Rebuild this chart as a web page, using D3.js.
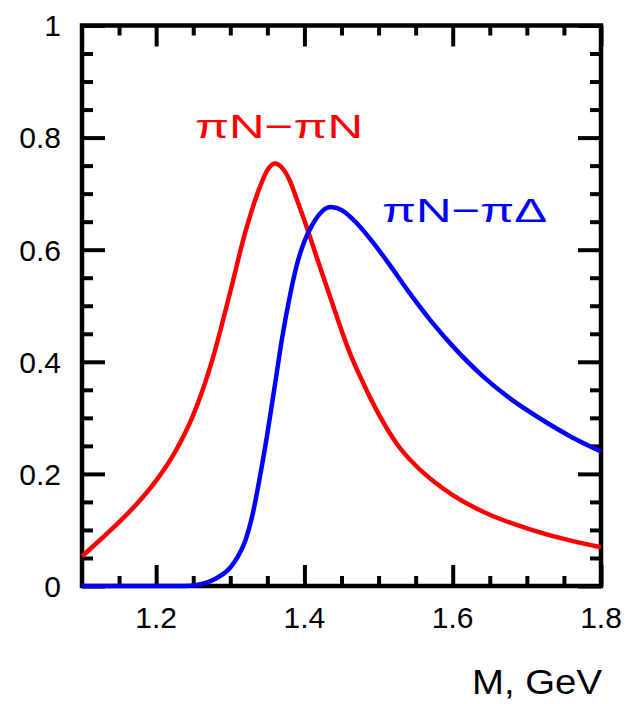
<!DOCTYPE html>
<html>
<head>
<meta charset="utf-8">
<script src="https://cdn.jsdelivr.net/npm/d3@7"></script>
<style>
  body { margin: 0; background: #fff; }
  text { font-family: "Liberation Sans", Arial, sans-serif; }
</style>
</head>
<body>
<div id="chart"></div>
<script>
// curve values (M in GeV, y = ratio)
const redM = [1.100, 1.125, 1.150, 1.175, 1.200, 1.225, 1.250, 1.275, 1.300, 1.320, 1.340, 1.350, 1.360, 1.370, 1.380, 1.390, 1.400, 1.420, 1.440, 1.460, 1.480, 1.500, 1.525, 1.550, 1.575, 1.600, 1.650, 1.700, 1.750, 1.800];
const redY = [0.053, 0.083, 0.114, 0.148, 0.188, 0.238, 0.305, 0.400, 0.525, 0.630, 0.712, 0.742, 0.754, 0.746, 0.724, 0.689, 0.652, 0.573, 0.495, 0.420, 0.360, 0.307, 0.253, 0.215, 0.186, 0.162, 0.127, 0.103, 0.084, 0.069];

const blueM = [1.100, 1.240, 1.260, 1.280, 1.300, 1.310, 1.320, 1.330, 1.340, 1.350, 1.360, 1.370, 1.380, 1.390, 1.400, 1.410, 1.420, 1.435, 1.450, 1.470, 1.490, 1.515, 1.540, 1.570, 1.600, 1.640, 1.680, 1.720, 1.760, 1.800];
const blueY = [0.000, 0.000, 0.003, 0.013, 0.033, 0.052, 0.080, 0.127, 0.195, 0.272, 0.357, 0.443, 0.515, 0.574, 0.615, 0.643, 0.663, 0.676, 0.671, 0.648, 0.617, 0.573, 0.526, 0.474, 0.428, 0.375, 0.332, 0.297, 0.266, 0.240];

const xMajor = [1.2, 1.4, 1.6, 1.8];
const xMinor = [1.15, 1.25, 1.3, 1.35, 1.45, 1.5, 1.55, 1.65, 1.7, 1.75];
const yMajor = [0, 0.2, 0.4, 0.6, 0.8, 1];
const yMinor = [0.05, 0.1, 0.15, 0.25, 0.3, 0.35, 0.45, 0.5, 0.55, 0.65, 0.7, 0.75, 0.85, 0.9, 0.95];

const W = 629, H = 704;
const plot = { left: 82, right: 601, top: 25.5, bottom: 586 };

const svg = d3.select("#chart").append("svg")
  .attr("width", W).attr("height", H);

const x = d3.scaleLinear().domain([1.1, 1.8]).range([plot.left, plot.right]);
const y = d3.scaleLinear().domain([0, 1]).range([plot.bottom, plot.top]);

// inward ticks on all four sides
function addTicks(axis, tx, ty, vals, size) {
  const g = svg.append("g")
    .attr("transform", `translate(${tx},${ty})`)
    .call(axis.tickValues(vals).tickSize(-size).tickFormat(""));
  g.select(".domain").remove();
  g.selectAll(".tick line").attr("stroke", "#000").attr("stroke-width", 4);
  return g;
}
addTicks(d3.axisBottom(x), 0, plot.bottom, xMajor, 21);
addTicks(d3.axisBottom(x), 0, plot.bottom, xMinor, 10);
addTicks(d3.axisTop(x), 0, plot.top, xMajor, 21);
addTicks(d3.axisTop(x), 0, plot.top, xMinor, 10);
addTicks(d3.axisLeft(y), plot.left, 0, yMajor, 23);
addTicks(d3.axisLeft(y), plot.left, 0, yMinor, 11);
addTicks(d3.axisRight(y), plot.right, 0, yMajor, 23);
addTicks(d3.axisRight(y), plot.right, 0, yMinor, 11);

// frame
svg.append("rect")
  .attr("x", plot.left).attr("y", plot.top)
  .attr("width", plot.right - plot.left).attr("height", plot.bottom - plot.top)
  .attr("fill", "none").attr("stroke", "#000").attr("stroke-width", 4.5);

// tick labels
svg.selectAll(".xlab").data(xMajor).enter().append("text")
  .attr("x", d => x(d)).attr("y", 628)
  .attr("text-anchor", "middle").attr("font-size", 30)
  .text(d => d3.format(".1f")(d));

svg.selectAll(".ylab").data(yMajor).enter().append("text")
  .attr("x", 61).attr("y", d => y(d)).attr("dy", "0.36em")
  .attr("text-anchor", "end").attr("font-size", 30)
  .text(d => d === 0 || d === 1 ? d3.format("d")(d) : d3.format(".1f")(d));

svg.append("text")
  .attr("x", 472).attr("y", 694)
  .attr("font-size", 35)
  .attr("textLength", 130).attr("lengthAdjust", "spacingAndGlyphs")
  .text("M, GeV");

// curves
const line = d3.line()
  .x(d => x(d[0])).y(d => y(d[1]))
  .curve(d3.curveMonotoneX);

svg.append("path")
  .datum(redM.map((m, i) => [m, redY[i]]))
  .attr("d", line).attr("fill", "none")
  .attr("stroke", "#ff0000").attr("stroke-width", 4.5);

svg.append("path")
  .datum(blueM.map((m, i) => [m, blueY[i]]))
  .attr("d", line).attr("fill", "none")
  .attr("stroke", "#0000ff").attr("stroke-width", 4.5);

// curve labels
svg.append("text")
  .attr("x", 195).attr("y", 138).attr("font-size", 34)
  .attr("font-family", "DejaVu Sans")
  .attr("fill", "#ff0000")
  .attr("textLength", 168).attr("lengthAdjust", "spacingAndGlyphs")
  .text("πN−πN");

svg.append("text")
  .attr("x", 382).attr("y", 222).attr("font-size", 34)
  .attr("font-family", "DejaVu Sans")
  .attr("fill", "#0000ff")
  .attr("textLength", 165).attr("lengthAdjust", "spacingAndGlyphs")
  .text("πN−πΔ");
</script>
</body>
</html>
